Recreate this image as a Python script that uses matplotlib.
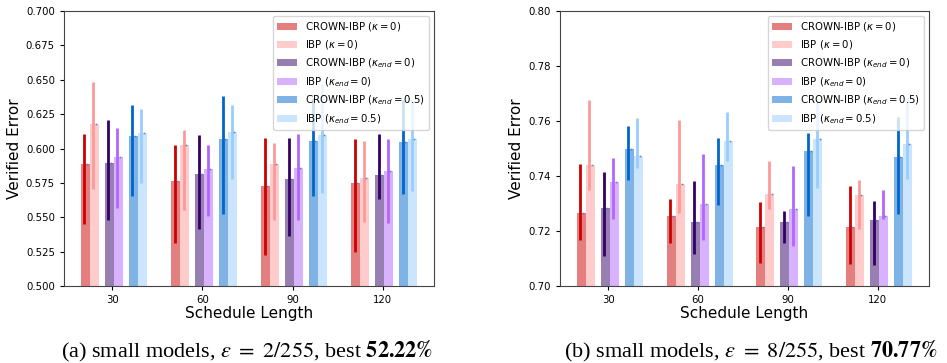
"""
Verified error vs. schedule length for small models (eps = 2/255 and 8/255)
"""

import numpy as np
import matplotlib.pyplot as plt

# schedule lengths on the x axis
schedules = [30, 60, 90, 120]

labels = [
    r'CROWN-IBP ($\kappa = 0$)',
    r'IBP ($\kappa = 0$)',
    r'CROWN-IBP ($\kappa_{end} = 0$)',
    r'IBP ($\kappa_{end} = 0$)',
    r'CROWN-IBP ($\kappa_{end} = 0.5$)',
    r'IBP ($\kappa_{end} = 0.5$)',
]

# eps = 2/255 : mean / max / min verified error, one row per setting
mean_eps2 = [
    [0.5884, 0.5767, 0.5728, 0.5750],
    [0.6175, 0.6027, 0.5884, 0.5789],
    [0.5896, 0.5815, 0.5775, 0.5806],
    [0.5935, 0.5850, 0.5855, 0.5835],
    [0.6092, 0.6068, 0.6054, 0.6049],
    [0.6110, 0.6119, 0.6095, 0.6066],
]
hi_eps2 = [
    [0.6102, 0.6024, 0.6073, 0.6068],
    [0.6481, 0.6134, 0.6041, 0.6056],
    [0.6204, 0.6097, 0.6073, 0.6102],
    [0.6150, 0.6024, 0.6102, 0.6068],
    [0.6316, 0.6383, 0.6364, 0.6352],
    [0.6284, 0.6313, 0.6470, 0.6350],
]
lo_eps2 = [
    [0.5449, 0.5316, 0.5229, 0.5248],
    [0.5709, 0.5551, 0.5478, 0.5466],
    [0.5483, 0.5415, 0.5362, 0.5631],
    [0.5568, 0.5510, 0.5478, 0.5459],
    [0.5658, 0.5527, 0.5653, 0.5672],
    [0.5750, 0.5775, 0.5680, 0.5692],
]

# eps = 8/255
mean_eps8 = [
    [0.7264, 0.7254, 0.7215, 0.7213],
    [0.7439, 0.7371, 0.7336, 0.7330],
    [0.7283, 0.7234, 0.7234, 0.7239],
    [0.7379, 0.7299, 0.7280, 0.7256],
    [0.7497, 0.7439, 0.7490, 0.7470],
    [0.7473, 0.7529, 0.7533, 0.7516],
]
hi_eps8 = [
    [0.7442, 0.7315, 0.7304, 0.7365],
    [0.7675, 0.7603, 0.7455, 0.7387],
    [0.7415, 0.7382, 0.7273, 0.7309],
    [0.7464, 0.7479, 0.7438, 0.7350],
    [0.7582, 0.7539, 0.7555, 0.7613],
    [0.7612, 0.7633, 0.7676, 0.7685],
]
lo_eps8 = [
    [0.7169, 0.7155, 0.7083, 0.7079],
    [0.7348, 0.7267, 0.7280, 0.7207],
    [0.7109, 0.7117, 0.7155, 0.7078],
    [0.7243, 0.7167, 0.7146, 0.7245],
    [0.7384, 0.7294, 0.7254, 0.7261],
    [0.7430, 0.7456, 0.7357, 0.7388],
]

colors = ['#cc0000', '#ff9999', '#330066', '#b266ff', '#0066cc', '#99ccff']
offsets = [-9, -6, -1, 2, 7, 10]
bar_w = 3


def draw_panel(ax, mean, hi, lo, ylim, yticks, yfmt):
    x = np.array(schedules, dtype=float)
    for i in range(len(labels)):
        xs = x + offsets[i]
        ax.bar(xs, np.array(mean[i]) - ylim[0], bottom=ylim[0], width=bar_w,
               color=colors[i], alpha=0.5, label=labels[i], linewidth=0)
        ax.vlines(xs - 0.3, lo[i], hi[i], colors=colors[i], linewidth=2.0)
        ax.plot(xs + 0.55, mean[i], 's', color='#3a78c8', markersize=1.2,
                markeredgewidth=0, alpha=0.8)
    ax.set_ylim(*ylim)
    ax.set_yticks(yticks)
    ax.set_yticklabels([yfmt.format(v) for v in yticks])
    ax.set_xticks(schedules)
    ax.tick_params(labelsize=7.3, length=3, width=0.8)
    ax.set_xlabel('Schedule Length', fontsize=11, labelpad=1)
    ax.set_ylabel('Verified Error', fontsize=11, labelpad=3)
    ax.legend(loc='upper right', fontsize=7.3)
    for s in ax.spines.values():
        s.set_color('#444444')


fig = plt.figure(figsize=(9.47, 3.63), dpi=100)
fig.patch.set_facecolor('white')

ax1 = fig.add_axes([0.0676, 0.2121, 0.3907, 0.7576])
draw_panel(ax1, mean_eps2, hi_eps2, lo_eps2, (0.5, 0.7),
           np.arange(0.5, 0.7001, 0.025), '{:.3f}')

ax2 = fig.add_axes([0.5913, 0.2121, 0.3897, 0.7576])
draw_panel(ax2, mean_eps8, hi_eps8, lo_eps8, (0.7, 0.8),
           np.arange(0.7, 0.8001, 0.02), '{:.2f}')

# captions under each panel (Times-like text, math in stix so \mathbf is bold)
cap_kw = dict(fontsize=16, family='Liberation Serif', math_fontfamily='stix',
              ha='center', va='baseline')
fig.text(0.2614, 0.0165,
         r'(a) small models, $\epsilon\ =\ 2/255$, best $\mathbf{52.22\%}$', **cap_kw)
fig.text(0.7925, 0.0165,
         r'(b) small models, $\epsilon\ =\ 8/255$, best $\mathbf{70.77\%}$', **cap_kw)

fig.savefig('out.png', dpi=100, facecolor='white')
